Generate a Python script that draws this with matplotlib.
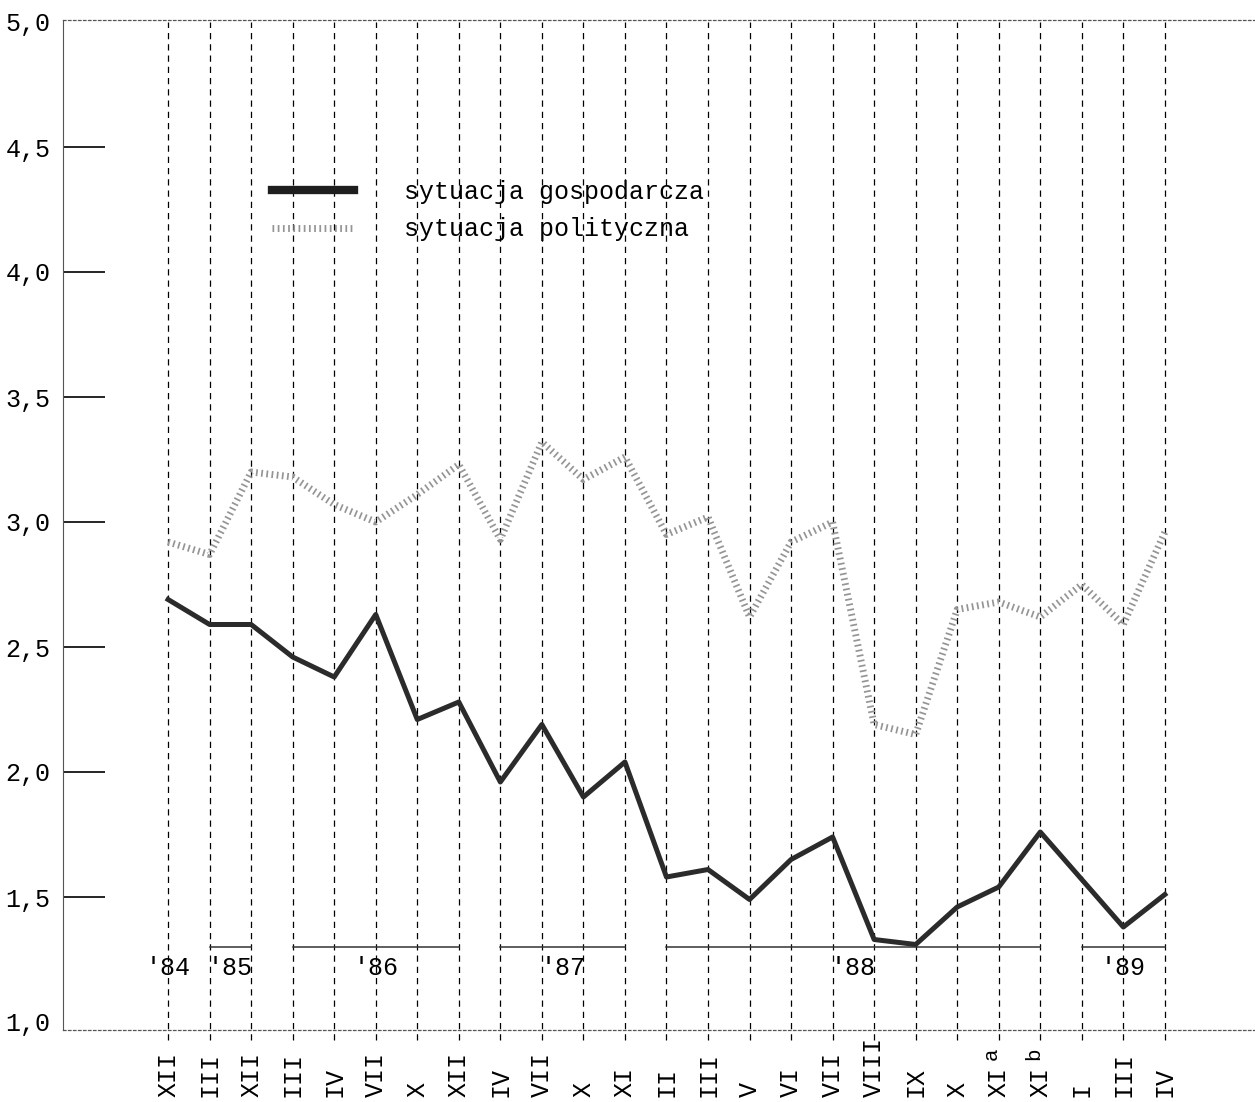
import matplotlib
matplotlib.use("Agg")
import matplotlib.pyplot as plt
from matplotlib.transforms import blended_transform_factory, offset_copy

# ---------------- data ----------------
months = ["XII", "III", "XII", "III", "IV", "VII", "X", "XII", "IV", "VII", "X", "XI",
          "II", "III", "V", "VI", "VII", "VIII", "IX", "X", "XI", "XI", "I", "III", "IV"]
month_sup = ["", "", "", "", "", "", "", "", "", "", "", "",
             "", "", "", "", "", "", "", "", "a", "b", "", "", ""]

gospodarcza = [2.69, 2.59, 2.59, 2.46, 2.38, 2.63, 2.21, 2.28, 1.96, 2.19, 1.90, 2.04,
               1.58, 1.61, 1.49, 1.65, 1.74, 1.33, 1.31, 1.46, 1.54, 1.76, 1.57, 1.38, 1.51]
polityczna = [2.92, 2.87, 3.20, 3.18, 3.07, 3.00, 3.11, 3.23, 2.93, 3.32, 3.17, 3.26,
              2.95, 3.02, 2.62, 2.92, 3.00, 2.19, 2.15, 2.65, 2.68, 2.62, 2.75, 2.59, 2.96]

years = ["'84", "'85", "'86", "'87", "'88", "'89"]
year_first = [0, 1, 3, 8, 12, 22]
year_last = [0, 2, 7, 11, 21, 24]

y_ticks = [1.0, 1.5, 2.0, 2.5, 3.0, 3.5, 4.0, 4.5, 5.0]
y_tick_labels = ["1,0", "1,5", "2,0", "2,5", "3,0", "3,5", "4,0", "4,5", "5,0"]

series_labels = ["sytuacja gospodarcza", "sytuacja polityczna"]

# ---------------- figure ----------------
MONO = "Liberation Mono"
W, H = 1255, 1102
fig = plt.figure(figsize=(W / 100, H / 100), dpi=100)
ax = fig.add_axes([63 / W, 1 - 1030 / H, 1 - 63 / W, (1030 - 20) / H])

x = list(range(len(months)))
ax.set_xlim(-2.53, 26.17)
ax.set_ylim(0.968, 5.008)

# vertical dashed guide lines
ax.vlines(x, 0.928, 5.0, colors="black", linewidth=0.9,
          linestyles=[(0, (5, 4))], clip_on=False, zorder=1)

# series
ax.plot(x, polityczna, color="#959595", linewidth=5, linestyle=(0, (0.25, 0.5)),
        label=series_labels[1], zorder=3)
ax.plot(x, gospodarcza, color="#2b2b2b", linewidth=3.6, label=series_labels[0], zorder=4)

# year bars and labels
for lab, a, b in zip(years, year_first, year_last):
    if b > a:
        ax.plot([a, b], [1.30, 1.30], color="#333333", linewidth=1.1, zorder=2)
    ax.text((a + b) / 2, 1.215, lab, fontfamily=MONO, fontsize=18,
            ha="center", va="center", zorder=5)

# spines
ax.spines["right"].set_visible(False)
ax.spines["left"].set_linestyle((0, (6, 1, 1, 1)))
ax.spines["left"].set_linewidth(0.8)
ax.spines["left"].set_color("#555555")
for side in ["top", "bottom"]:
    ax.spines[side].set_linestyle((0, (2, 2)))
    ax.spines[side].set_linewidth(0.9)
    ax.spines[side].set_color("#555555")

# y ticks
ax.set_yticks(y_ticks)
ax.set_yticklabels(y_tick_labels, fontfamily=MONO, fontsize=18)
ax.tick_params(axis="y", direction="in", length=30, width=1.2, pad=9, colors="black")
yt = ax.yaxis.get_major_ticks()
yt[0].tick1line.set_visible(False)
yt[-1].tick1line.set_visible(False)

# x labels (rotated month labels)
ax.set_xticks([])
trans = blended_transform_factory(ax.transData, fig.transFigure)
for xi, m, s in zip(x, months, month_sup):
    ax.text(xi, 1 - 1097 / H, m, transform=trans, rotation=90, fontfamily=MONO,
            fontsize=18, ha="center", va="bottom", clip_on=False)
    if s:
        tsup = offset_copy(trans, fig=fig, x=-7, y=0, units="dots")
        ax.text(xi, 1 - 1060 / H, s, transform=tsup, rotation=90, fontfamily=MONO,
                fontsize=15, ha="center", va="bottom", clip_on=False)

# legend
leg = ax.legend(loc="upper left", bbox_to_anchor=(259 / W, 1 - 167 / H),
                bbox_transform=fig.transFigure, frameon=False, borderpad=0,
                handlelength=3.3, handletextpad=2.0, labelspacing=0.55,
                prop={"family": MONO, "size": 18}, reverse=True)
leg.legend_handles[0].set_linewidth(6)
leg.legend_handles[0].set_color("#1e1e1e")

fig.savefig("out.png", dpi=100)
